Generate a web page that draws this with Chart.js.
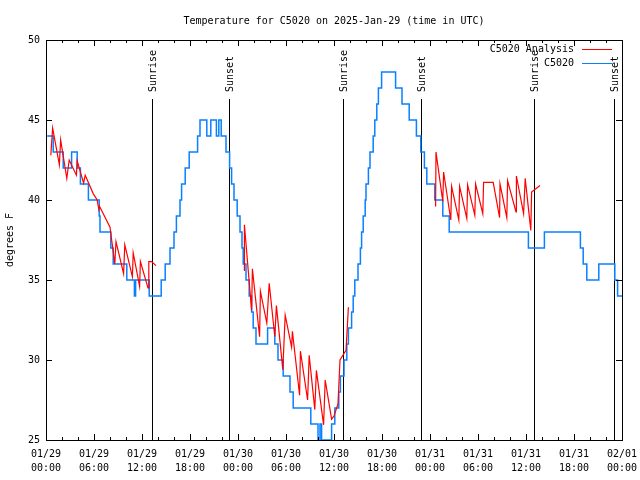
<!DOCTYPE html>
<html>
<head>
<meta charset="utf-8">
<script src="https://cdn.jsdelivr.net/npm/chart.js@4.4.1/dist/chart.umd.min.js"></script>
<style>
  html, body { margin: 0; padding: 0; background: #fff; }
  #wrap { width: 640px; height: 480px; }
</style>
</head>
<body>
<div id="wrap"><canvas id="tempChart"></canvas></div>
<script>
// hours since 01/29 00:00 UTC
const tickHours = [0, 6, 12, 18, 24, 30, 36, 42, 48, 54, 60, 66, 72];
const tickDates = ['01/29', '01/29', '01/29', '01/29', '01/30', '01/30', '01/30', '01/30', '01/31', '01/31', '01/31', '01/31', '02/01'];
const tickTimes = ['00:00', '06:00', '12:00', '18:00', '00:00', '06:00', '12:00', '18:00', '00:00', '06:00', '12:00', '18:00', '00:00'];

const sunHours = [13.19, 22.9, 37.16, 46.9, 61.0, 70.94];
const sunLabels = ['Sunrise', 'Sunset', 'Sunrise', 'Sunset', 'Sunrise', 'Sunset'];

// C5020 observations (value changes)
const obsHours = [0.15, 0.9, 2.15, 3.2, 3.9, 4.3, 5.3, 6.65, 6.75, 8.1, 8.4, 10.1, 11.05, 11.2, 12.9,
  14.4, 14.9, 15.5, 16.0, 16.3, 16.75, 16.95, 17.4, 17.9, 18.95, 19.25, 20.1, 20.6, 21.3, 21.6, 21.9,
  22.5, 22.95, 23.2, 23.5, 23.9, 24.25, 24.5, 24.65, 25.0, 25.4, 25.7, 25.9, 26.25, 27.7, 28.6, 29.0,
  29.65, 30.5, 30.9, 33.1, 34.0, 34.25, 34.45, 34.65, 35.7, 36.1, 36.6, 36.8, 37.25, 37.6, 37.8, 38.2,
  38.4, 38.6, 39.0, 39.3, 39.45, 39.65, 39.9, 40.0, 40.3, 40.5, 40.9, 41.1, 41.35, 41.55, 41.95, 43.7,
  44.5, 45.4, 46.3, 46.85, 47.3, 47.6, 48.6, 49.6, 50.4, 60.3, 62.3, 66.8, 67.15, 67.6, 69.1, 71.1,
  71.45, 72];
const obsTemps = [44, 43, 42, 43, 42, 41, 40, 39, 38, 37, 36, 35, 34, 35, 34,
  35, 36, 37, 38, 39, 40, 41, 42, 43, 44, 45, 44, 45, 44, 45, 44,
  43, 42, 41, 40, 39, 38, 37, 36, 35, 34, 33, 32, 31, 32, 31, 30,
  29, 28, 27, 26, 24, 26, 24, 25, 26, 27, 28, 29, 30, 31, 32, 33,
  34, 35, 36, 37, 38, 39, 40, 41, 42, 43, 44, 45, 46, 47, 48, 47,
  46, 45, 44, 43, 42, 41, 40, 39, 38, 37, 38, 37, 36, 35, 36, 35,
  34, 34];

// C5020 Analysis (null = gap)
const anaHours = [0.6, 0.83, 1.67, 1.83, 2.6, 2.9, 3.8, 3.9, 4.7, 4.9, 5.9, 6.4, 6.6, 6.7, 8.0,
  8.6, 8.75, 9.7, 9.85, 10.8, 10.9, 11.7, 11.8, 12.75, 12.85, 13.2, 13.75,
  18,
  24.75, 24.8, 25.7, 25.8, 26.7, 26.8, 27.6, 27.9, 28.6, 28.8, 29.6, 29.9, 30.7, 30.8, 31.7, 31.8,
  32.7, 32.9, 33.6, 33.8, 34.7, 34.9, 35.7, 36.0, 36.5, 36.75, 37.5, 37.8,
  43,
  48.7, 48.75, 49.6, 49.7, 50.6, 50.7, 51.6, 51.7, 52.6, 52.7, 53.6, 53.7, 54.6, 54.7, 55.9,
  56.7, 56.75, 57.6, 57.7, 58.75, 58.8, 59.7, 59.9, 60.6, 60.7, 61.75];
const anaTemps = [42.8, 44.5, 42.2, 43.75, 41.35, 42.5, 41.55, 42.45, 41.05, 41.55, 40.4, 40.0, 39.4, 39.6, 38.3,
  36.0, 37.4, 35.4, 37.2, 35.2, 36.7, 34.6, 36.15, 34.5, 36.15, 36.15, 35.9,
  null,
  35.6, 38.45, 33.1, 35.7, 31.45, 34.3, 32.3, 34.8, 31.45, 33.4, 29.4, 32.8, 30.8, 31.8, 27.8, 30.55,
  27.5, 30.3, 26.9, 29.35, 25.95, 28.75, 26.3, 26.5, 27.25, 30.0, 30.6, 33.3,
  null,
  39.6, 43.0, 39.9, 41.75, 38.75, 40.85, 38.75, 40.85, 38.85, 40.95, 39.05, 41.0, 39.15, 41.1, 41.1,
  38.9, 41.0, 38.9, 41.2, 39.25, 41.5, 39.15, 41.35, 38.1, 40.5, 40.9];

const FONT = '10px "DejaVu Sans Mono", "Liberation Mono", monospace';

const gnuplotDecor = {
  id: 'gnuplotDecor',
  beforeDatasetsDraw(chart) {
    const { ctx, chartArea: a, scales: { x } } = chart;
    ctx.save();
    ctx.strokeStyle = '#000';
    ctx.lineWidth = 1;
    ctx.font = FONT;
    ctx.fillStyle = '#000';
    sunHours.forEach((h, i) => {
      const px = Math.round(x.getPixelForValue(h)) + 0.5;
      ctx.beginPath();
      ctx.moveTo(px, a.top + 59);
      ctx.lineTo(px, a.bottom);
      ctx.stroke();
      ctx.save();
      ctx.translate(px + 1, a.top + 52);
      ctx.rotate(-Math.PI / 2);
      ctx.textAlign = 'left';
      ctx.textBaseline = 'middle';
      ctx.fillText(sunLabels[i], 0, 0);
      ctx.restore();
    });
    ctx.restore();
  },
  afterDraw(chart) {
    const { ctx, chartArea: a, scales: { x, y } } = chart;
    ctx.save();
    ctx.strokeStyle = '#000';
    ctx.lineWidth = 1;
    ctx.strokeRect(a.left + 0.5, a.top + 0.5, a.right - a.left, a.bottom - a.top);
    ctx.beginPath();
    for (let h = 0; h <= 72; h += 2) {
      const px = Math.round(x.getPixelForValue(h)) + 0.5;
      const len = h % 6 === 0 ? 6 : 3;
      ctx.moveTo(px, a.bottom); ctx.lineTo(px, a.bottom - len);
      ctx.moveTo(px, a.top); ctx.lineTo(px, a.top + len);
    }
    for (let v = 25; v <= 50; v += 5) {
      const py = Math.round(y.getPixelForValue(v)) + 0.5;
      ctx.moveTo(a.left, py); ctx.lineTo(a.left + 6, py);
      ctx.moveTo(a.right, py); ctx.lineTo(a.right - 6, py);
    }
    ctx.stroke();

    ctx.fillStyle = '#000';
    ctx.font = FONT;
    ctx.textAlign = 'center';
    ctx.textBaseline = 'middle';
    ctx.fillText('Temperature for C5020 on 2025-Jan-29 (time in UTC)', (a.left + a.right) / 2, 21);

    ctx.save();
    ctx.translate(10, (a.top + a.bottom) / 2);
    ctx.rotate(-Math.PI / 2);
    ctx.fillText('degrees F', 0, 0);
    ctx.restore();

    // legend
    const rows = [['C5020 Analysis', '#ff0000'], ['C5020', '#0a80ff']];
    rows.forEach((r, i) => {
      const ly = a.top + 9 + i * 14;
      ctx.textAlign = 'right';
      ctx.fillStyle = '#000';
      ctx.fillText(r[0], a.right - 48, ly);
      ctx.strokeStyle = r[1];
      ctx.lineWidth = 1;
      ctx.beginPath();
      ctx.moveTo(a.right - 40, ly + 0.5);
      ctx.lineTo(a.right - 10, ly + 0.5);
      ctx.stroke();
    });
    ctx.restore();
  }
};

function initTempChart() {
  const ctx = document.getElementById('tempChart').getContext('2d');
  new Chart(ctx, {
    type: 'line',
    data: {
      datasets: [{
        label: 'C5020 Analysis',
        data: anaHours.map((h, i) => ({ x: h, y: anaTemps[i] })),
        borderColor: '#ff0000',
        borderWidth: 1.2,
        pointRadius: 0,
        spanGaps: false,
        tension: 0
      }, {
        label: 'C5020',
        data: obsHours.map((h, i) => ({ x: h, y: obsTemps[i] })),
        borderColor: '#0a80ff',
        borderWidth: 1.5,
        pointRadius: 0,
        stepped: 'before'
      }]
    },
    options: {
      responsive: true,
      maintainAspectRatio: false,
      animation: false,
      devicePixelRatio: 1,
      layout: { padding: { top: 40, right: 18, left: 0, bottom: 0 } },
      plugins: { legend: { display: false }, tooltip: { enabled: false } },
      scales: {
        x: {
          type: 'linear',
          min: 0,
          max: 72,
          grid: { display: false, drawTicks: false },
          border: { display: false },
          afterBuildTicks: (scale) => { scale.ticks = tickHours.map(v => ({ value: v })); },
          afterFit: (scale) => {
            scale.height = 40;
            scale.paddingLeft = 0;
            scale.paddingRight = 0;
          },
          ticks: {
            autoSkip: false,
            maxRotation: 0,
            padding: 7,
            color: '#000',
            font: { family: '"DejaVu Sans Mono", "Liberation Mono", monospace', size: 10, lineHeight: 1.4 },
            callback: (v, i) => [tickDates[i], tickTimes[i]]
          }
        },
        y: {
          min: 25,
          max: 50,
          grid: { display: false, drawTicks: false },
          border: { display: false },
          afterFit: (scale) => {
            scale.width = 46;
            scale.paddingTop = 0;
            scale.paddingBottom = 0;
          },
          ticks: {
            stepSize: 5,
            padding: 6,
            color: '#000',
            font: { family: '"DejaVu Sans Mono", "Liberation Mono", monospace', size: 10 }
          }
        }
      }
    },
    plugins: [gnuplotDecor]
  });
}

document.addEventListener('DOMContentLoaded', () => {
  initTempChart();
});
</script>
</body>
</html>
